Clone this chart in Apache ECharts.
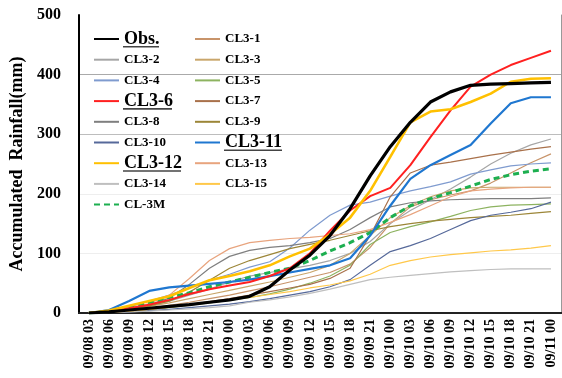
<!DOCTYPE html>
<html><head><meta charset="utf-8">
<script src="https://cdn.jsdelivr.net/npm/echarts@6/dist/echarts.min.js"></script>
<style>html,body{margin:0;padding:0;background:#fff}#c{width:562px;height:378px}</style>
</head><body><div id="c"></div>
<script>
const categories = ['09/08 03','09/08 06','09/08 09','09/08 12','09/08 15','09/08 18','09/08 21','09/09 00','09/09 03','09/09 06','09/09 09','09/09 12','09/09 15','09/09 18','09/09 21','09/10 00','09/10 03','09/10 06','09/10 09','09/10 12','09/10 15','09/10 18','09/10 21','09/11 00'];
const yTicks = [0,100,200,300,400,500];
const obs  = [0,2,5,8,11,14,18,22,28,44,72,97,130,175,230,279,320,354,371,382,384,385,386,387];
const cl1  = [0,1,4,8,13,18,24,30,37,44,52,60,68,82,110,150,178,190,198,205,218,235,252,267];
const cl2  = [0,2,6,12,20,30,40,52,62,68,74,80,88,100,120,150,172,190,208,228,250,268,282,292];
const cl3  = [0,2,6,11,17,24,31,38,45,52,60,68,80,100,130,160,180,195,205,210,211,211,211,211];
const cl4  = [0,3,10,20,30,42,55,65,77,86,109,139,164,181,186,196,205,212,220,233,240,247,250,252];
const cl5  = [0,1,3,6,9,13,17,21,26,32,40,50,62,80,115,135,145,153,162,172,178,181,182,183];
const cl6  = [0,3,8,14,22,32,40,46,52,62,75,100,138,172,196,210,248,295,340,380,400,416,428,440];
const cl7  = [0,1,3,6,10,14,19,24,30,36,42,48,58,75,130,195,235,248,253,259,265,270,275,279];
const cl8  = [0,2,7,14,25,48,75,95,105,110,113,118,125,140,160,178,185,188,190,191,192,192,192,193];
const cl9  = [0,2,6,12,20,35,55,75,88,98,108,115,122,130,138,145,150,154,157,160,162,164,167,170];
const cl10 = [0,1,2,4,6,9,12,15,19,24,30,36,44,56,80,103,113,125,140,155,164,169,175,186];
const cl11 = [0,5,20,37,43,46,49,52,56,62,68,74,80,92,130,180,225,248,265,282,318,352,362,362];
const cl12 = [0,4,12,20,28,42,55,62,70,80,95,108,132,160,205,262,320,338,342,354,368,388,393,394];
const cl13 = [0,2,8,16,30,58,88,108,118,122,125,127,130,133,140,152,165,180,195,205,208,210,211,211];
const cl14 = [0,1,2,3,5,7,9,12,18,22,27,33,40,48,56,60,63,66,69,71,73,74,74,74];
const cl15 = [0,1,3,6,10,14,18,22,26,31,36,42,47,54,65,80,88,94,98,101,104,106,109,113];
const cl3m = [0,3,10,18,26,34,44,52,60,68,75,88,104,118,135,160,180,192,202,213,224,232,238,242];

const FONT = '"Liberation Serif","Times New Roman",serif';
const thin = 1.2;
const defs = [
  ['CL3-1', cl1, '#C8946A', thin],
  ['CL3-2', cl2, '#A6A6A6', thin],
  ['CL3-3', cl3, '#C9A66B', thin],
  ['CL3-4', cl4, '#7F9BCF', thin],
  ['CL3-5', cl5, '#8DB360', thin],
  ['CL3-7', cl7, '#A9714B', thin],
  ['CL3-8', cl8, '#7F7F7F', thin],
  ['CL3-9', cl9, '#9C8638', thin],
  ['CL3-10', cl10, '#56699A', thin],
  ['CL3-13', cl13, '#E8A47E', thin],
  ['CL3-14', cl14, '#BFBFBF', thin],
  ['CL3-15', cl15, '#FFC84A', thin],
  ['CL-3M', cl3m, '#1DAF50', 3, 'dashed'],
  ['CL3-11', cl11, '#1F77D0', 2.2],
  ['CL3-6', cl6, '#FF2020', 2],
  ['CL3-12', cl12, '#FFC000', 2.6],
  ['Obs.', obs, '#000000', 3.2]
];
const series = defs.map(d => ({
  name: d[0], type: 'line', data: d[1], symbol: 'none', showSymbol: false, smooth: false,
  lineStyle: {color: d[2], width: d[3], type: d[4] === 'dashed' ? [6, 4] : 'solid'},
  itemStyle: {color: d[2]}, emphasis: {disabled: true}
}));
const bigNames = ['Obs.', 'CL3-6', 'CL3-11', 'CL3-12'];
const leftCol = ['Obs.','CL3-2','CL3-4','CL3-6','CL3-8','CL3-10','CL3-12','CL3-14','CL-3M'];
const rightCol = ['CL3-1','CL3-3','CL3-5','CL3-7','CL3-9','CL3-11','CL3-13','CL3-15'];
const legendBase = {
  orient: 'vertical', top: 29, padding: 0, itemWidth: 25, itemHeight: 20, itemGap: 0.7,
  selectedMode: false,
  itemStyle: {opacity: 0, borderWidth: 0},
  formatter: n => bigNames.includes(n) ? '{b|' + n + '}' : '{s|' + n + '}',
  textStyle: {
    lineHeight: 20,
    rich: {
      b: {fontFamily: FONT, fontSize: 18, fontWeight: 'bold', color: '#000', lineHeight: 20},
      s: {fontFamily: FONT, fontSize: 13, fontWeight: 'bold', color: '#000', lineHeight: 20}
    }
  }
};
const chart = echarts.init(document.getElementById('c'), null, {renderer: 'canvas'});
const ul = (x1, x2, y) => ({type: 'line', shape: {x1, y1: y, x2, y2: y}, style: {stroke: '#444', lineWidth: 1.6}, z: 100});
chart.setOption({
  animation: false,
  backgroundColor: '#fff',
  grid: {left: 77, right: 1, top: 15, bottom: 65, containLabel: false},
  legend: [
    Object.assign({}, legendBase, {left: 93, data: leftCol}),
    Object.assign({}, legendBase, {left: 194, data: rightCol})
  ],
  graphic: [ul(123, 159, 46.8), ul(123, 172, 108.9), ul(123, 181, 171), ul(224, 282, 150.3)],
  xAxis: [{
    type: 'category', data: categories, boundaryGap: true,
    axisLine: {show: true, lineStyle: {color: '#000', width: 2}},
    axisTick: {show: false},
    axisLabel: {interval: 0, rotate: 90, margin: 6, fontFamily: FONT, fontSize: 14, fontWeight: 'bold', color: '#000'},
    splitLine: {show: false}
  }, {
    type: 'category', data: categories, position: 'top', boundaryGap: true,
    axisLine: {show: true, lineStyle: {color: '#222', width: 2}},
    axisTick: {show: false}, axisLabel: {show: false}
  }],
  yAxis: [{
    type: 'value', min: yTicks[0], max: yTicks[yTicks.length - 1], interval: 100,
    name: 'Accumulated  Rainfall(mm)', nameLocation: 'middle', nameGap: 48, nameRotate: 90,
    nameTextStyle: {fontFamily: FONT, fontSize: 18, fontWeight: 'bold', color: '#000'},
    axisLine: {show: true, lineStyle: {color: '#000', width: 2}},
    axisTick: {show: false},
    axisLabel: {margin: 18, fontFamily: FONT, fontSize: 16, fontWeight: 'bold', color: '#000'},
    splitLine: {show: true, lineStyle: {color: ['rgba(0,0,0,0)', '#eeeeee', '#eeeeee', '#bdbdbd', '#aaaaaa', 'rgba(0,0,0,0)'], width: 1.2}}
  }, {
    type: 'value', position: 'right', min: 0, max: 500, interval: 100,
    axisLine: {show: true, lineStyle: {color: '#999', width: 1}},
    axisTick: {show: false}, axisLabel: {show: false}, splitLine: {show: false}
  }],
  series: series
});
</script></body></html>
